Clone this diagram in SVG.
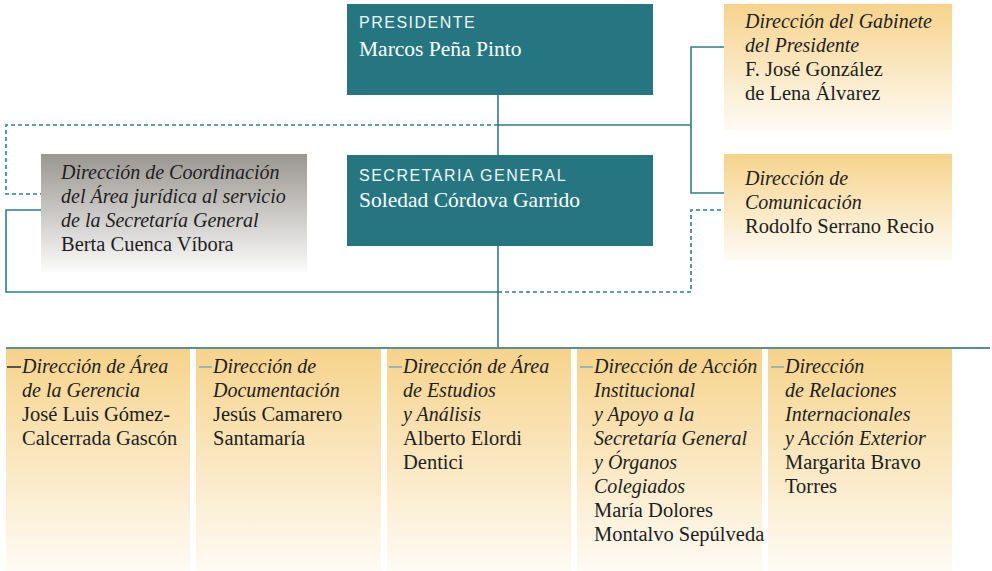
<svg xmlns="http://www.w3.org/2000/svg" width="992" height="571" viewBox="0 0 992 571">
<defs>
<linearGradient id="gold" x1="0" y1="0" x2="0" y2="1">
<stop offset="0" stop-color="#f6d38b"/>
<stop offset="1" stop-color="#fefbf4"/>
</linearGradient>
<linearGradient id="gray" x1="0" y1="0" x2="0" y2="1">
<stop offset="0" stop-color="#9a9690"/>
<stop offset="1" stop-color="#fbfbfb"/>
</linearGradient>
<style>
.teal{fill:#257681}
.hd{font-family:"Liberation Sans",Arial,sans-serif;font-size:16px;letter-spacing:1.5px;fill:#eef5f6}
.nm{font-family:"Liberation Serif","Times New Roman",serif;font-size:21.5px;fill:#ffffff}
.t{font-family:"Liberation Serif","Times New Roman",serif;font-size:20.5px;fill:#1e1e1e}
.i{font-style:italic;font-size:20px}
.ln{fill:none;stroke:#2e7d87;stroke-width:1.6}
.dl{fill:none;stroke:#2e7d87;stroke-width:1.6;stroke-dasharray:4 3}
.tick{stroke:#7fb0b3;stroke-width:1.6}
</style>
</defs>
<g id="presidente">
<rect class="teal" x="347" y="4" width="306" height="91"/>
<text class="hd" x="359" y="28">PRESIDENTE</text>
<text class="nm" x="359" y="56">Marcos Peña Pinto</text>
</g>
<g id="secretaria">
<rect class="teal" x="347" y="155" width="306" height="91"/>
<text class="hd" x="359" y="181">SECRETARIA GENERAL</text>
<text class="nm" x="359" y="207">Soledad Córdova Garrido</text>
</g>
<g id="coordinacion">
<rect x="41" y="154" width="266" height="118" fill="url(#gray)"/>
<text class="t" x="61"><tspan class="i" x="61" y="179">Dirección de Coordinación</tspan><tspan class="i" x="61" y="203">del Área jurídica al servicio</tspan><tspan class="i" x="61" y="227">de la Secretaría General</tspan><tspan x="61" y="251">Berta Cuenca Víbora</tspan></text>
</g>
<g id="gabinete">
<rect x="724" y="4" width="228" height="126" fill="url(#gold)"/>
<text class="t"><tspan class="i" x="745" y="28">Dirección del Gabinete</tspan><tspan class="i" x="745" y="52">del Presidente</tspan><tspan x="745" y="76">F. José González</tspan><tspan x="745" y="100">de Lena Álvarez</tspan></text>
</g>
<g id="comunicacion">
<rect x="724" y="154" width="228" height="106" fill="url(#gold)"/>
<text class="t"><tspan class="i" x="745" y="185">Dirección de</tspan><tspan class="i" x="745" y="209">Comunicación</tspan><tspan x="745" y="233">Rodolfo Serrano Recio</tspan></text>
</g>
<g id="gerencia">
<rect x="6" y="349" width="184" height="222" fill="url(#gold)"/>
<text class="t"><tspan class="i" x="22" y="373">Dirección de Área</tspan><tspan class="i" x="22" y="397">de la Gerencia</tspan><tspan x="22" y="421">José Luis Gómez-</tspan><tspan x="22" y="445">Calcerrada Gascón</tspan></text>
</g>
<g id="documentacion">
<rect x="196" y="349" width="185" height="222" fill="url(#gold)"/>
<text class="t"><tspan class="i" x="213" y="373">Dirección de</tspan><tspan class="i" x="213" y="397">Documentación</tspan><tspan x="213" y="421">Jesús Camarero</tspan><tspan x="213" y="445">Santamaría</tspan></text>
</g>
<g id="estudios">
<rect x="387" y="349" width="184" height="222" fill="url(#gold)"/>
<text class="t"><tspan class="i" x="403" y="373">Dirección de Área</tspan><tspan class="i" x="403" y="397">de Estudios</tspan><tspan class="i" x="403" y="421">y Análisis</tspan><tspan x="403" y="445">Alberto Elordi</tspan><tspan x="403" y="469">Dentici</tspan></text>
</g>
<g id="accion">
<rect x="577" y="349" width="185" height="222" fill="url(#gold)"/>
<text class="t"><tspan class="i" x="594" y="373">Dirección de Acción</tspan><tspan class="i" x="594" y="397">Institucional</tspan><tspan class="i" x="594" y="421">y Apoyo a la</tspan><tspan class="i" x="594" y="445">Secretaría General</tspan><tspan class="i" x="594" y="469">y Órganos</tspan><tspan class="i" x="594" y="493">Colegiados</tspan><tspan x="594" y="517">María Dolores</tspan><tspan x="594" y="541">Montalvo Sepúlveda</tspan></text>
</g>
<g id="relaciones">
<rect x="768" y="349" width="184" height="222" fill="url(#gold)"/>
<text class="t"><tspan class="i" x="785" y="373">Dirección</tspan><tspan class="i" x="785" y="397">de Relaciones</tspan><tspan class="i" x="785" y="421">Internacionales</tspan><tspan class="i" x="785" y="445">y Acción Exterior</tspan><tspan x="785" y="469">Margarita Bravo</tspan><tspan x="785" y="493">Torres</tspan></text>
</g>
<g id="connectors">
<polyline class="ln" points="498,95 498,155"/>
<polyline class="dl" points="498,125 6,125 6,194 41,194"/>
<polyline class="ln" points="498,125 691,125"/>
<polyline class="ln" points="724,47 691,47 691,193 724,193"/>
<polyline class="ln" points="41,210 6,210 6,292 498,292"/>
<polyline class="dl" points="498,292 691,292 691,210 724,210"/>
<polyline class="ln" points="498,246 498,348"/>
<line x1="6" y1="348" x2="990" y2="348" stroke="#5a8f97" stroke-width="1.8"/>
<line x1="7" y1="367" x2="21" y2="367" stroke="#333" stroke-width="1.6"/>
<line class="tick" x1="199" y1="367" x2="212" y2="367"/>
<line class="tick" x1="389" y1="367" x2="402" y2="367"/>
<line class="tick" x1="580" y1="367" x2="593" y2="367"/>
<line class="tick" x1="771" y1="367" x2="784" y2="367"/>
</g>
</svg>
